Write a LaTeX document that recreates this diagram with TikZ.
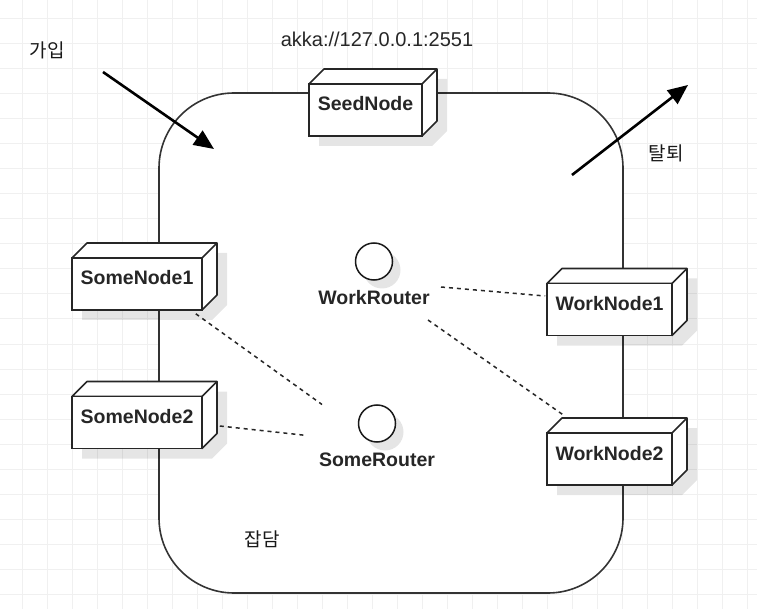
\documentclass[tikz,border=0pt]{standalone}
\usepackage{fontspec}
\setmainfont{Liberation Sans}
\newfontfamily\kor{Noto Sans CJK KR}
\usetikzlibrary{arrows.meta,calc}
\tikzset{gridline/.style={draw=black!6, line width=1pt},
         frame/.style={draw=black!80, line width=1.6pt, fill=white, rounded corners=75pt},
         nodebox/.style={draw=black!85, line width=1.6pt, fill=white, inner sep=0pt, minimum height=52pt,
                         text height=14pt, text depth=12pt, text=black!85, font=\fontsize{19.5}{22}\selectfont\bfseries},
         boxface/.style={draw=black!85, line width=1.6pt, fill=white, line join=round},
         shade/.style={fill=black, fill opacity=0.1, draw=none},
         router/.style={circle, draw=black!90, line width=1.5pt, fill=white, minimum size=37pt, inner sep=0pt},
         txt/.style={inner sep=0pt, text=black!85, font=\fontsize{20}{24}\selectfont},
         boldtxt/.style={inner sep=0pt, text=black!85, font=\fontsize{19.5}{24}\selectfont\bfseries},
         hangul/.style={inner sep=0pt, text=black!90, font=\kor\fontsize{19}{22}\selectfont},
         link/.style={draw=black!85, line width=1.5pt, dash pattern=on 4pt off 4pt},
         flow/.style={draw=black, line width=2.6pt, -{Triangle[length=20pt,width=17pt]}}}
% name, x, y, width, text
\newcommand{\umlbox}[5]{%
  \begin{scope}[shift={(#2,#3)}]
   \fill[shade] (-#4/2+10,36) -- (-#4/2+10,-16) -- (-#4/2+25,-31) -- (#4/2+25,-31) -- (#4/2+25,21) -- (#4/2+10,36) -- cycle;
   \draw[boxface] (-#4/2,-26) -- (-#4/2+15,-41) -- (#4/2+15,-41) -- (#4/2+15,11) -- (#4/2,26) -- (#4/2,-26) -- cycle;
   \draw[boxface] (#4/2,-26) -- (#4/2+15,-41);
   \node[nodebox, minimum width=#4pt] (#1) at (0,0) {#5};
  \end{scope}}

\begin{document}
\begin{tikzpicture}[x=1pt,y=-1pt]
   \useasboundingbox (0,0) rectangle (757,609);
   \foreach \x in {22,47,...,747} \draw[gridline] (\x,0) -- (\x,609);
   \foreach \y in {19,44,...,594} \draw[gridline] (0,\y) -- (757,\y);

   \draw[frame] (159,93) rectangle (623,593);

   \umlbox{seed}{365.5}{110}{113}{SeedNode}
   \umlbox{some1}{137}{284}{130}{SomeNode1}
   \umlbox{some2}{137}{422.5}{130}{SomeNode2}
   \umlbox{work1}{609.5}{309.5}{125}{WorkNode1}
   \umlbox{work2}{609.5}{459}{125}{WorkNode2}

   \fill[shade] (382,270) circle (18.5);
   \fill[shade] (385,432) circle (18.5);
   \node[router] (workR) at (374,261.5) {};
   \node[router] (someR) at (377,423.5) {};
   \node[boldtxt] (workRlbl) at (374,298) {WorkRouter};
   \node[boldtxt] (someRlbl) at (377,460) {SomeRouter};

   \draw[link] ($(some1.south east)+(-7,3)$) -- ($(someR.center)+(-55,-19)$);
   \draw[link] ($(some2.east)+(17,3.5)$) -- ($(someR.center)+(-70,12)$);
   \draw[link] ($(workRlbl.center)+(67,-11)$) -- ($(work1.west)+(-1,-13.5)$);
   \draw[link] ($(workRlbl.center)+(54,22)$) -- ($(work2.north west)+(16,-18)$);

   \coordinate (joinA) at (103,72);
   \coordinate (joinB) at (214,149);
   \coordinate (leaveA) at (572,175);
   \coordinate (leaveB) at (688,85);
   \draw[flow] (joinA) -- (joinB);
   \draw[flow] (leaveA) -- (leaveB);

   \node[txt] (addr) at (377,39) {akka://127.0.0.1:2551};
   \node[hangul] (join) at (47,50) {가입};
   \node[hangul] (leave) at (666,153) {탈퇴};
   \node[hangul] (chat) at (262,539) {잡담};
\end{tikzpicture}
\end{document}
